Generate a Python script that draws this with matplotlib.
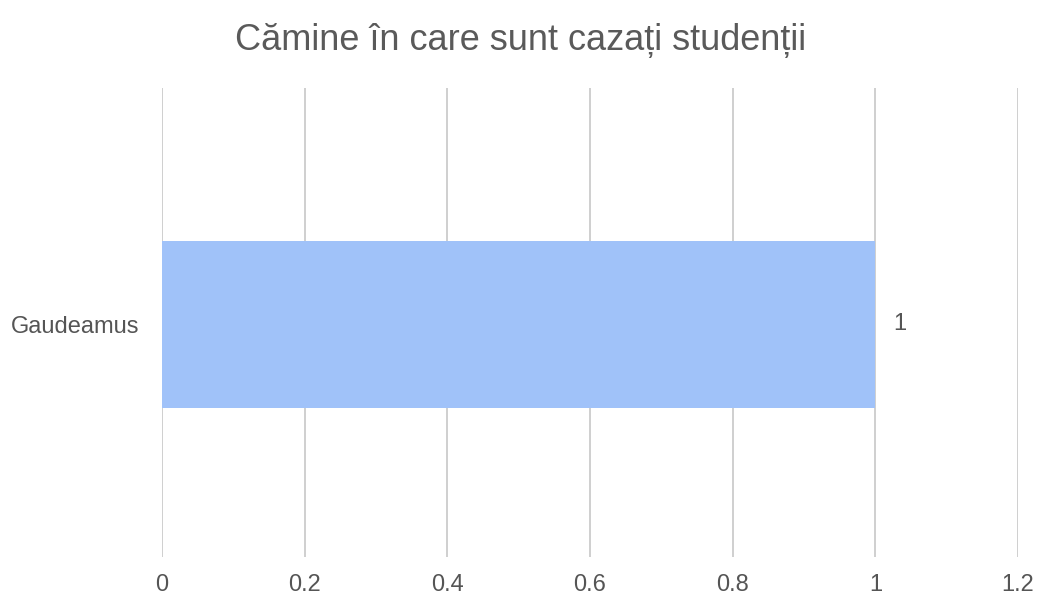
import matplotlib
matplotlib.use("Agg")
import matplotlib.pyplot as plt

# ===== 資料 =====
categories = ["Gaudeamus"]
values = [1]
x_ticks = [0, 0.2, 0.4, 0.6, 0.8, 1.0, 1.2]
x_tick_labels = ["0", "0.2", "0.4", "0.6", "0.8", "1", "1.2"]
title = "Cămine în care sunt cazați studenții"

plt.rcParams["font.family"] = ["Liberation Sans", "DejaVu Sans"]

W, H = 1041, 602
fig = plt.figure(figsize=(W / 100, H / 100), dpi=100)
ax = fig.add_axes([162 / W, 1 - 557 / H, (1018 - 162) / W, (557 - 88) / H])

ax.barh(categories, values, height=0.356, color="#a0c2f9", zorder=2)

for c, v in zip(categories, values):
    ax.text(v + 0.025, c, str(v), va="center", ha="left",
            fontsize=17, color="#555555")

ax.set_xlim(0, 1.2)
ax.set_ylim(-0.496, 0.504)
ax.set_xticks(x_ticks)
ax.set_xticklabels(x_tick_labels)

ax.grid(axis="x", color="#cccccc", linewidth=1.3, zorder=0)
ax.grid(axis="y", visible=False)
for s in ax.spines.values():
    s.set_visible(False)

ax.tick_params(axis="both", length=0, labelsize=17, labelcolor="#555555")
ax.tick_params(axis="x", pad=12)
ax.tick_params(axis="y", pad=16)

fig.text(0.5, 1 - 40 / H, title, ha="center", va="center",
         fontsize=26, color="#5a5a5a")

fig.savefig("out.png", dpi=100, facecolor="white")
